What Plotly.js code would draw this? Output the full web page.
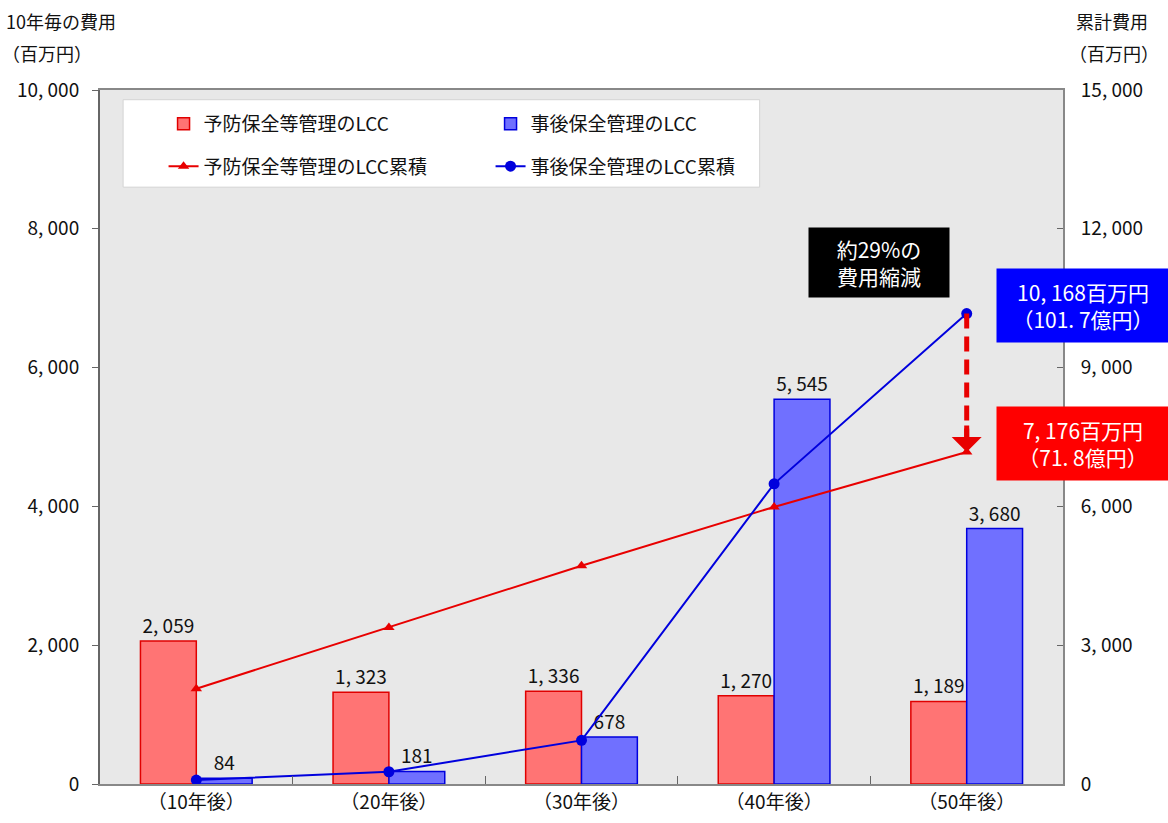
<!DOCTYPE html>
<html><head><meta charset="utf-8">
<script src="https://cdn.plot.ly/plotly-3.0.1.min.js"></script>
<style>body{margin:0;background:#fff}#chart{width:1168px;height:823px}</style>
</head><body><div id="chart"></div>
<script>
const categories = ['（10年後）','（20年後）','（30年後）','（40年後）','（50年後）'];
const preventiveLCC = [2059, 1323, 1336, 1270, 1189];
const correctiveLCC = [84, 181, 678, 5545, 3680];
const preventiveCum = [2059, 3382, 4718, 5988, 7176];
const correctiveCum = [84, 265, 943, 6488, 10168];
const leftTickVals = [0, 2000, 4000, 6000, 8000, 10000];
const leftTickText = ['0', '2, 000', '4, 000', '6, 000', '8, 000', '10, 000'];
const rightTickVals = [0, 3000, 6000, 9000, 12000, 15000];
const rightTickText = ['0', '3, 000', '6, 000', '9, 000', '12, 000', '15, 000'];
const seriesNames = ['予防保全等管理のLCC', '事後保全管理のLCC', '予防保全等管理のLCC累積', '事後保全管理のLCC累積'];

const FONT = 'Noto Sans CJK JP, Noto Sans, sans-serif';
const fmt = v => v.toLocaleString('en-US').replace(/,/g, ', ');

const traces = [
  {type:'bar', name:seriesNames[0], x:categories, y:preventiveLCC, yaxis:'y', legend:'legend',
   offsetgroup:'a', text:preventiveLCC.map(fmt), textposition:'outside', cliponaxis:false,
   textfont:{size:19, color:'#111', family:FONT},
   marker:{color:'#ff7474', line:{color:'#e00000', width:1.5}}},
  {type:'bar', name:seriesNames[1], x:categories, y:correctiveLCC, yaxis:'y', legend:'legend',
   offsetgroup:'b', text:correctiveLCC.map(fmt), textposition:'outside', cliponaxis:false,
   textfont:{size:19, color:'#111', family:FONT},
   marker:{color:'#7070ff', line:{color:'#0000dd', width:1.5}}},
  {type:'scatter', mode:'lines+markers', name:seriesNames[2], x:categories, y:preventiveCum, yaxis:'y2', legend:'legend2',
   line:{color:'#e80000', width:2}, marker:{symbol:'triangle-up', size:10, color:'#e80000'}},
  {type:'scatter', mode:'lines+markers', name:seriesNames[3], x:categories, y:correctiveCum, yaxis:'y2', legend:'legend2',
   line:{color:'#0000dd', width:2}, marker:{symbol:'circle', size:11, color:'#0000dd'}}
];

const legendCommon = {xanchor:'left', yanchor:'middle', orientation:'h', bgcolor:'rgba(0,0,0,0)',
  borderwidth:0, entrywidth:282, entrywidthmode:'pixels', font:{size:19, family:FONT}, traceorder:'normal'};

const last = categories.length - 1;
const layout = {
  width:1168, height:823,
  margin:{l:100, r:105, t:90, b:39},
  paper_bgcolor:'#ffffff', plot_bgcolor:'#e8e8e8',
  font:{family:FONT, size:18, color:'#111'},
  barmode:'group', bargap:0.42, bargroupgap:0,
  showlegend:true,
  legend:Object.assign({x:0.066, y:0.951}, legendCommon),
  legend2:Object.assign({x:0.066, y:0.890}, legendCommon),
  xaxis:{type:'category', showline:true, linecolor:'#888', linewidth:2, mirror:true,
    ticks:'inside', tickson:'boundaries', ticklen:8, tickcolor:'#666',
    tickfont:{size:19}, showgrid:false, zeroline:false},
  yaxis:{range:[0,10000], tickvals:leftTickVals, ticktext:leftTickText,
    showline:true, linecolor:'#666', linewidth:2, ticks:'outside', ticklen:6, tickcolor:'#666',
    ticklabelstandoff:9, showgrid:false, zeroline:false, tickfont:{size:19}},
  yaxis2:{range:[0,15000], overlaying:'y', side:'right', tickvals:rightTickVals, ticktext:rightTickText,
    showline:true, linecolor:'#888', linewidth:2, ticks:'inside', ticklen:6, tickcolor:'#666',
    ticklabelstandoff:12, showgrid:false, zeroline:false, tickfont:{size:19}},
  shapes:[
    {type:'rect', xref:'paper', yref:'paper', x0:0.024, x1:0.685, y0:0.860, y1:0.986, layer:'below',
     fillcolor:'#ffffff', line:{color:'#d4d4d4', width:1}},
    {type:'line', xref:'x', yref:'y2', x0:last, x1:last, y0:correctiveCum[last], y1:preventiveCum[last],
     line:{color:'#e80000', width:5, dash:'15px,8px'}}
  ],
  annotations:[
    {xref:'paper', yref:'paper', x:-0.1, y:1.1, xanchor:'left', yanchor:'middle', text:'10年毎の費用',
     showarrow:false, font:{size:18}},
    {xref:'paper', yref:'paper', x:-0.104, y:1.054, xanchor:'left', yanchor:'middle', text:'（百万円）',
     showarrow:false, font:{size:18}},
    {xref:'paper', yref:'paper', x:1.011, y:1.1, xanchor:'left', yanchor:'middle', text:'累計費用',
     showarrow:false, font:{size:18}},
    {xref:'paper', yref:'paper', x:1.004, y:1.054, xanchor:'left', yanchor:'middle', text:'（百万円）',
     showarrow:false, font:{size:18}},
    {xref:'x', yref:'y2', x:last, y:preventiveCum[last], ax:0, ay:-28, text:'', showarrow:true,
     arrowhead:1, arrowsize:1, arrowwidth:5, arrowcolor:'#e80000', standoff:0},
    {xref:'paper', yref:'paper', x:0.809, y:0.752, xanchor:'center', yanchor:'middle',
     text:'約29%の<br>費用縮減', showarrow:false,
     bgcolor:'#000000', width:138, height:67, font:{size:21, color:'#ffffff'}},
    {xref:'paper', yref:'paper', x:1.021, y:0.689, xanchor:'center', yanchor:'middle',
     text:'10, 168百万円<br>（101. 7億円）', showarrow:false,
     bgcolor:'#0000ff', width:170, height:71, font:{size:21, color:'#ffffff'}},
    {xref:'paper', yref:'paper', x:1.021, y:0.491, xanchor:'center', yanchor:'middle',
     text:'7, 176百万円<br>（71. 8億円）', showarrow:false,
     bgcolor:'#ff0000', width:170, height:71, font:{size:21, color:'#ffffff'}}
  ]
};

Plotly.newPlot('chart', traces, layout, {displayModeBar:false, responsive:false});
</script>
</body></html>
